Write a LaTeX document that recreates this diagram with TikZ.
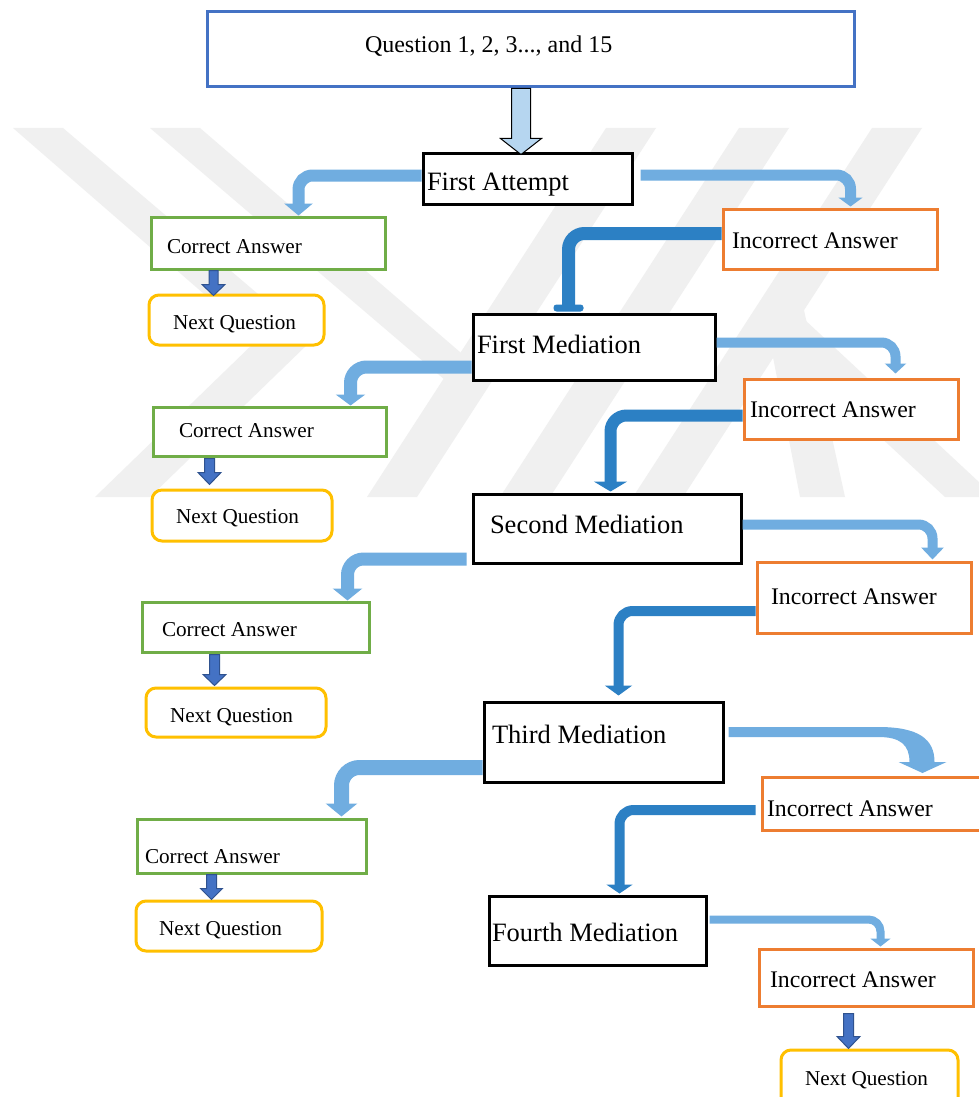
\documentclass[tikz,border=0pt]{standalone}
\usepackage{fontspec}
\setmainfont{Liberation Serif}
\usetikzlibrary{arrows.meta,calc}
\definecolor{qblue}{RGB}{68,114,196}
\definecolor{cgreen}{RGB}{112,173,71}
\definecolor{iorange}{RGB}{237,125,49}
\definecolor{nyellow}{RGB}{255,192,0}
\definecolor{lbc}{RGB}{112,173,224}
\definecolor{dbc}{RGB}{44,128,196}
\definecolor{hollowc}{RGB}{182,214,240}
\definecolor{sabc}{RGB}{68,114,196}
\definecolor{sabd}{RGB}{47,82,143}
\definecolor{wmc}{RGB}{240,240,240}

\newcommand\mkbox[9]{%
  \pgfmathsetmacro\mbcx{(#3+#5)/2}%
  \pgfmathsetmacro\mbcy{(#4+#6)/2}%
  \pgfmathsetmacro\mbbw{#5-#3}%
  \pgfmathsetmacro\mbbh{#6-#4}%
  \pgfmathsetmacro\mbtw{\mbbw-2*(#7-#3)}%
  \pgfmathsetmacro\mbdl{#8-\mbcy}%
  \pgfmathsetmacro\mbTH{max(2*\mbdl,0)}%
  \pgfmathsetmacro\mbTD{max(-2*\mbdl,0)}%
  \node[#1, minimum width=\mbbw pt, minimum height=\mbbh pt, inner sep=0pt,
        text height=\mbTH pt, text depth=\mbTD pt] (#2) at (\mbcx,\mbcy)
        {\makebox[\mbtw pt][l]{#9}};%
}
% block arrow pointing down: #1 style, #2 top coordinate, #3 length, #4 head length, #5 shaft half, #6 head half
\newcommand\blkdown[6]{%
  \begin{scope}[shift={#2}]
    \filldraw[#1] (-#5,0) -- (-#5,#3-#4) -- (-#6,#3-#4) -- (0,#3) -- (#6,#3-#4) -- (#5,#3-#4) -- (#5,0) -- cycle;
  \end{scope}}

\begin{document}
\begin{tikzpicture}[x=1pt,y=-1pt,
  mbox/.style={draw=black, line width=3pt, fill=white, font=\fontsize{26.5}{30}\selectfont},
  qbox/.style={draw=qblue, line width=3pt, fill=white, font=\fontsize{24}{28}\selectfont},
  cbox/.style={draw=cgreen, line width=3pt, fill=white, font=\fontsize{21.2}{25}\selectfont},
  ibox/.style={draw=iorange, line width=3pt, fill=white, font=\fontsize{23.8}{28}\selectfont},
  nbox/.style={draw=nyellow, line width=3pt, rounded corners=10pt, fill=white, font=\fontsize{21.2}{25}\selectfont},
  lbline/.style={draw=lbc, line cap=butt},
  dbline/.style={draw=dbc, line cap=butt},
  smallarrow/.style={fill=sabc, draw=sabd, line width=1pt},
  hollowarrow/.style={fill=hollowc, draw=black, line width=1pt}
]
\useasboundingbox (0,0) rectangle (978,1097);
\fill[white] (0,0) rectangle (978,1097);

% watermark
\fill[wmc] (13,128) -- (63,128) -- (312,340) -- (150,497) -- (95,497) -- (257,340) -- cycle;
\fill[wmc] (150,128) -- (200,128) -- (475,365) -- (445,380) -- cycle;
\fill[wmc] (606,128) -- (656,128) -- (417,497) -- (367,497) -- cycle;
\fill[wmc] (739,128) -- (789,128) -- (550,497) -- (500,497) -- cycle;
\fill[wmc] (872,128) -- (922,128) -- (683,497) -- (633,497) -- cycle;
\fill[wmc] (762,300) -- (800,292) -- (845,497) -- (800,497) -- cycle;
\fill[wmc] (765,330) -- (805,320) -- (995,497) -- (945,497) -- cycle;

% boxes
\mkbox{qbox}{q}{207}{12}{854}{87}{365}{53}{Question 1, 2, 3..., and 15}
\mkbox{mbox}{fa}{423}{153}{632}{204}{427}{190}{First Attempt}
\mkbox{cbox}{ca1}{151}{217}{385}{269}{167}{253}{Correct Answer}
\mkbox{nbox}{nq1}{149}{295}{324}{345}{173}{329}{Next Question}
\mkbox{ibox}{ia1}{723}{209}{937}{269}{732}{248}{Incorrect Answer}
\mkbox{mbox}{fm}{473}{314}{715}{380}{477}{353}{First Mediation}
\mkbox{cbox}{ca2}{153}{407}{386}{456}{179}{437}{Correct Answer}
\mkbox{nbox}{nq2}{152}{490}{332}{541}{176}{523}{Next Question}
\mkbox{ibox}{ia2}{744}{379}{958}{439}{750}{417}{Incorrect Answer}
\mkbox{mbox}{sm}{473}{494}{741}{563}{490}{533}{Second Mediation}
\mkbox{cbox}{ca3}{142}{602}{369}{652}{162}{636}{Correct Answer}
\mkbox{nbox}{nq3}{146}{688}{326}{737}{170}{722}{Next Question}
\mkbox{ibox}{ia3}{757}{562}{971}{633}{771}{604}{Incorrect Answer}
\mkbox{mbox}{tm}{484}{702}{723}{782}{492}{743}{Third Mediation}
\mkbox{cbox}{ca4}{137}{819}{366}{873}{145}{863}{Correct Answer}
\mkbox{nbox}{nq4}{136}{901}{322}{951}{159}{935}{Next Question}
\mkbox{ibox}{ia4}{762}{777}{990}{830}{767}{816}{Incorrect Answer}
\mkbox{mbox}{fom}{489}{896}{706}{965}{492}{941}{Fourth Mediation}
\mkbox{ibox}{ia5}{759}{949}{973}{1006}{770}{987}{Incorrect Answer}
\mkbox{nbox}{nq5}{781}{1050}{958}{1110}{805}{1085}{Next Question}

% hollow arrow from question box
\blkdown{hollowarrow}{($(q.south west)+(315.5,0)$)}{66}{16}{9.5}{20.5}

% light blue connectors
\draw[lbline, line width=12pt, rounded corners=14pt, -{Triangle[width=28pt,length=12pt]}]
  ($(fa.west)+(0,-3)$) -| ($(ca1.north west)+(149,0)$);
\draw[lbline, line width=11pt, rounded corners=14pt, -{Triangle[width=24pt,length=9pt]}]
  ($(fa.east)+(7,-3.5)$) -| ($(ia1.north west)+(129,-1)$);
\draw[lbline, line width=10pt, rounded corners=14pt, -{Triangle[width=21pt,length=10pt]}]
  ($(fm.east)+(0,-4.5)$) -| ($(ia2.north west)+(153,-4)$);
\draw[lbline, line width=13pt, rounded corners=16pt, -{Triangle[width=29pt,length=11pt]}]
  ($(fm.west)+(0,20)$) -| ($(ca2.north west)+(199,0)$);
\draw[lbline, line width=10pt, rounded corners=14pt, -{Triangle[width=22pt,length=12pt]}]
  ($(sm.east)+(0,-4)$) -| ($(ia3.north west)+(177,-1)$);
\draw[lbline, line width=13pt, rounded corners=16pt, -{Triangle[width=29pt,length=12pt]}]
  ($(sm.west)+(-5,30.5)$) -| ($(ca3.north west)+(207,0)$);
\draw[lbline, line width=15pt, rounded corners=18pt, -{Triangle[width=31pt,length=13pt]}]
  ($(tm.west)+(0,25.5)$) -| ($(ca4.north west)+(206,-1)$);
\draw[lbline, line width=8pt, rounded corners=12pt, -{Triangle[width=20pt,length=8pt]}]
  ($(fom.east)+(2,-11)$) -| ($(ia5.north west)+(123,-1)$);
% thick curved arrow from third mediation
\coordinate (j0) at ($(tm.east)+(4,-15)$);
\begin{scope}[shift={(j0)}]
  \fill[lbc] (0,0) -- (150,0) .. controls (190,0) and (206,12) .. (206,35) -- (218,35) -- (194,46)
    -- (170,35) -- (181,35) .. controls (181,18) and (172,10) .. (150,10) -- (0,10) -- cycle;
\end{scope}

% dark blue connectors
\draw[dbline, line width=13pt, rounded corners=16pt]
  ($(ia1.west)+(0,-5.5)$) -| ($(fm.north west)+(97,-7)$);
\fill[dbc, rounded corners=3pt] ($(fm.north west)+(82,-8)$) rectangle ($(fm.north west)+(112,-1)$);
\draw[dbline, line width=12pt, rounded corners=16pt, -{Triangle[width=33pt,length=10pt]}]
  ($(ia2.west)+(0,6.5)$) -| ($(sm.north west)+(139,-1)$);
\draw[dbline, line width=10pt, rounded corners=14pt, -{Triangle[width=27pt,length=10pt]}]
  ($(ia3.west)+(0,13.5)$) -| ($(tm.north west)+(136,-5)$);
\draw[dbline, line width=10pt, rounded corners=14pt, -{Triangle[width=26pt,length=9pt]}]
  ($(ia4.west)+(-5,6.5)$) -| ($(fom.north west)+(132,-1)$);

% small arrows correct -> next
\blkdown{smallarrow}{($(ca1.south west)+(64,0)$)}{25}{11}{4.5}{11.5}
\blkdown{smallarrow}{($(ca2.south west)+(58,1)$)}{26}{12}{5}{11.5}
\blkdown{smallarrow}{($(ca3.south west)+(74,1)$)}{31}{11}{5}{11.5}
\blkdown{smallarrow}{($(ca4.south west)+(76,0)$)}{25}{11}{5}{11}
\blkdown{smallarrow}{($(ia5.south west)+(91,6)$)}{35}{12}{5}{11.5}
\end{tikzpicture}
\end{document}
